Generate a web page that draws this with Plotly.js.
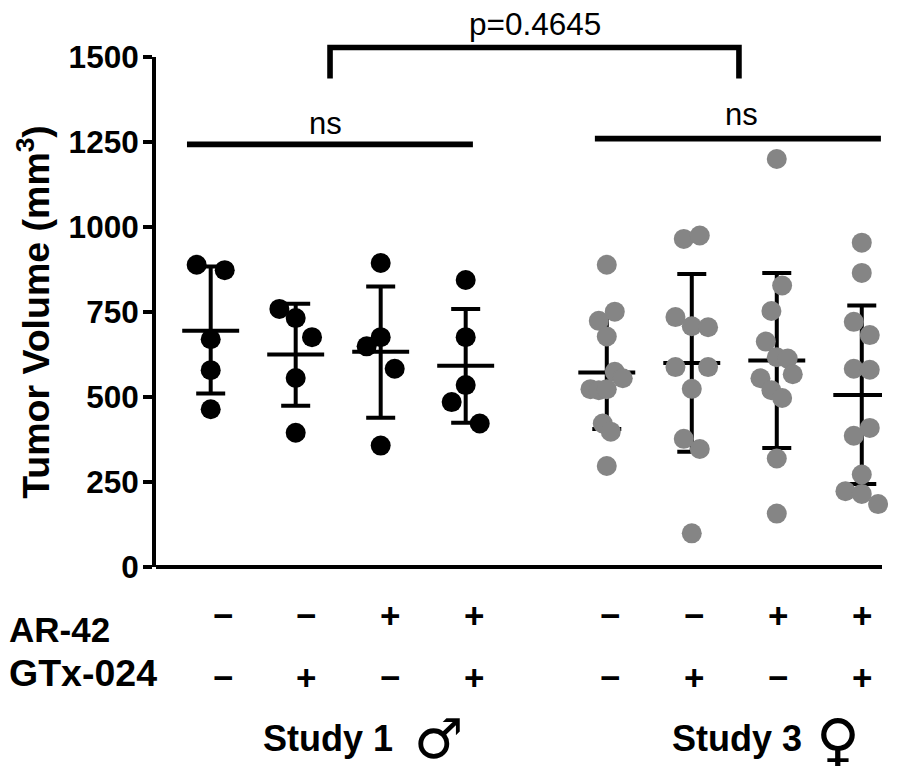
<!DOCTYPE html>
<html>
<head>
<meta charset="utf-8">
<script src="https://cdn.plot.ly/plotly-3.0.1.min.js"></script>
<style>html,body{margin:0;padding:0;background:#fff}</style>
</head>
<body>
<div id="chart" style="width:914px;height:766px"></div>
<script>
// Group centres on the x axis
const groupX = [1, 2, 3, 4, 5.66, 6.66, 7.66, 8.66];
const labelX = [1.14, 2.12, 3.11, 4.10, 5.70, 6.69, 7.67, 8.66];
const ar42 = ['−', '−', '+', '+', '−', '−', '+', '+'];
const gtx024 = ['−', '+', '−', '+', '−', '+', '−', '+'];

// Summary values per group
const means = [695, 625, 633, 592, 572, 600, 607, 506];
const uppers = [884, 774, 825, 759, 738, 862, 865, 769];
const lowers = [510, 474, 439, 424, 406, 339, 350, 244];

// Individual tumours: value and horizontal swarm offset, per group
const g1v = [889, 873, 670, 579, 464];
const g1o = [-0.165, 0.165, 0, 0, 0];
const g2v = [759, 732, 676, 556, 395];
const g2o = [-0.192, 0, 0.192, 0, 0];
const g3v = [894, 676, 649, 583, 357];
const g3o = [0, 0, -0.165, 0.165, 0];
const g4v = [844, 676, 535, 485, 422];
const g4o = [0, 0, 0, -0.165, 0.165];
const g5v = [889, 751, 724, 678, 574, 555, 523, 520, 523, 422, 398, 297];
const g5o = [0, 0.094, -0.094, 0, 0.094, 0.188, -0.192, -0.094, 0, -0.047, 0.047, 0];
const g6v = [965, 975, 735, 708, 705, 588, 588, 524, 377, 347, 99];
const g6o = [-0.094, 0.094, -0.192, 0, 0.192, -0.192, 0.192, 0, -0.094, 0.094, 0];
const g7v = [1200, 828, 753, 663, 617, 613, 567, 555, 520, 497, 319, 157];
const g7o = [0, 0.063, -0.063, -0.129, 0, 0.129, 0.188, -0.192, -0.063, 0.063, 0, 0];
const g8v = [954, 865, 721, 682, 583, 580, 409, 386, 272, 223, 215, 185];
const g8o = [0, 0, -0.094, 0.094, -0.094, 0.094, 0.094, -0.094, 0, -0.192, 0, 0.192];

const allValues = [g1v, g2v, g3v, g4v, g5v, g6v, g7v, g8v];
const allOffsets = [g1o, g2o, g3o, g4o, g5o, g6o, g7o, g8o];
const dotColours = ['#000000', '#000000', '#000000', '#000000', '#858585', '#858585', '#858585', '#858585'];

// Significance annotations
const nsLeftX = [0.721, 4.085];
const nsLeftY = [1243, 1243];
const nsRightX = [5.52, 8.885];
const nsRightY = [1260, 1260];
const bracketX = [2.404, 2.404, 7.215, 7.215];
const bracketY = [1437, 1528, 1528, 1437];
const YMAX = 1500;

const FONT = '"Liberation Sans", Arial, sans-serif';

const traces = [];
traces.push({
  type: 'scatter', mode: 'markers', x: groupX, y: means,
  marker: {size: 1, color: 'rgba(0,0,0,0)'},
  error_y: {type: 'data', symmetric: false,
    array: uppers.map((u, i) => u - means[i]),
    arrayminus: lowers.map((l, i) => means[i] - l),
    thickness: 4, width: 14.5, color: '#000'},
  error_x: {type: 'constant', value: 0.335, thickness: 4, width: 0, color: '#000'},
  cliponaxis: false, hoverinfo: 'skip'
});
allValues.forEach((vals, g) => {
  traces.push({
    type: 'scatter', mode: 'markers', cliponaxis: false,
    x: vals.map((_, i) => groupX[g] + allOffsets[g][i]),
    y: vals,
    marker: {size: 20, color: dotColours[g], line: {width: 0}}
  });
});
[[nsLeftX, nsLeftY], [nsRightX, nsRightY]].forEach(([x, y]) => {
  traces.push({type: 'scatter', mode: 'lines', x, y, cliponaxis: false,
    line: {color: '#000', width: 5.6}, hoverinfo: 'skip'});
});

const shapes = [{
  type: 'path', xref: 'x', yref: 'paper',
  path: bracketX.map((x, i) => (i ? 'L' : 'M') + x + ',' + (bracketY[i] / YMAX)).join(' '),
  line: {color: '#000', width: 5.6}, fillcolor: 'rgba(0,0,0,0)', layer: 'above'
}];

const annotations = [];
function addText(text, x, xref, y, yref, size, bold, xanchor, family, height) {
  const a = {text: bold ? '<b>' + text + '</b>' : text, x, xref, y, yref,
    showarrow: false, xanchor: xanchor || 'center', yanchor: 'middle',
    font: {family: family || FONT, size, color: '#000'}};
  if (height) { a.height = height; a.borderpad = 0; }
  annotations.push(a);
}
const px = p => (p - 156) / 726;
const py = p => (566.7 - p) / 509.7;
ar42.forEach((s, i) => addText(s, labelX[i], 'x', py(615), 'paper', 35, true));
gtx024.forEach((s, i) => addText(s, labelX[i], 'x', py(677), 'paper', 35, true));
addText('AR-42', px(7), 'paper', py(629.5), 'paper', 35, true, 'left');
addText('GTx-024', px(7), 'paper', py(672.5), 'paper', 37.5, true, 'left');
addText('Study 1', px(328), 'paper', py(738), 'paper', 36, true);
addText('Study 3', px(737), 'paper', py(738), 'paper', 36, true);
addText('ns', 2.345, 'x', 1304 / YMAX, 'paper', 31, false);
addText('ns', 7.25, 'x', 1331 / YMAX, 'paper', 31, false);
addText('p=0.4645', 4.81, 'x', 1597 / YMAX, 'paper', 31.5, false);
addText('♂', px(438), 'paper', py(739), 'paper', 55, false, 'center', '"DejaVu Sans"', 50);
addText('♀', px(838), 'paper', py(741), 'paper', 60, false, 'center', '"DejaVu Sans"', 50);

const layout = {
  width: 914, height: 766, autosize: false, showlegend: false,
  paper_bgcolor: '#fff', plot_bgcolor: '#fff',
  margin: {l: 156, r: 32, t: 57, b: 199.3, pad: 0},
  xaxis: {range: [0.3565, 8.898], showline: false, showgrid: false, zeroline: false,
    showticklabels: false, ticks: ''},
  yaxis: {range: [0, YMAX], tickvals: [0, 250, 500, 750, 1000, 1250, 1500],
    showline: true, linewidth: 4, linecolor: '#000', showgrid: false,
    zeroline: true, zerolinewidth: 4, zerolinecolor: '#000',
    ticks: 'outside', ticklen: 9, tickwidth: 4, tickcolor: '#000', ticklabelstandoff: -2,
    tickfont: {family: FONT, size: 31.5, color: '#000', weight: 'bold'},
    title: {text: '<b>Tumor Volume (mm<sup>3</sup>)</b>', standoff: 8,
      font: {family: FONT, size: 37.5, color: '#000'}}},
  shapes, annotations
};
Plotly.newPlot('chart', traces, layout, {displayModeBar: false, staticPlot: true});
</script>
</body>
</html>
